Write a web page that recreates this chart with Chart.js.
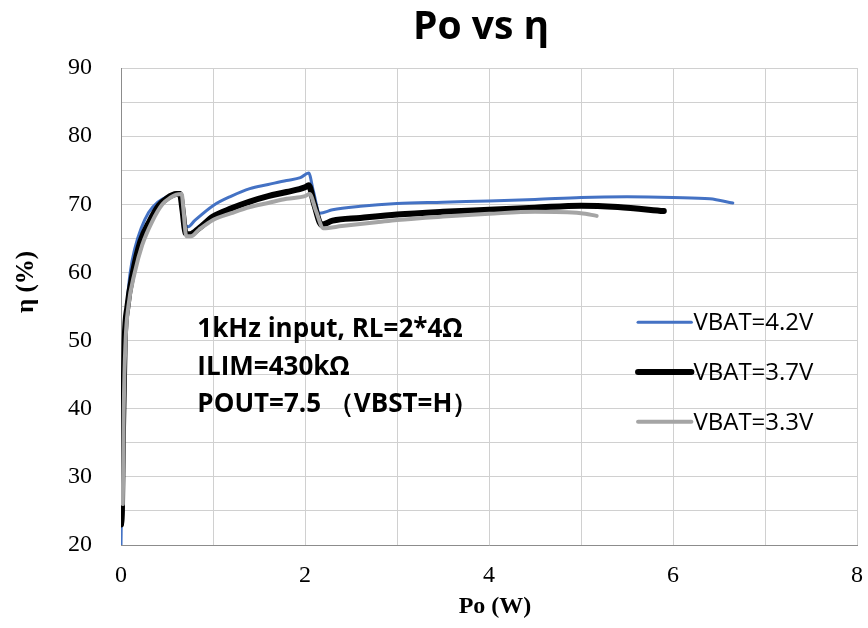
<!DOCTYPE html>
<html>
<head>
<meta charset="utf-8">
<script src="https://cdn.jsdelivr.net/npm/chart.js@4.4.1/dist/chart.umd.min.js"></script>
<style>
  html, body { margin: 0; padding: 0; background: #fff; overflow: hidden; }
  #wrap { width: 868px; height: 628px; }
</style>
</head>
<body>
<div id="wrap"><canvas id="myChart"></canvas></div>
<script>
// series
var seriesLabels = ['VBAT=4.2V', 'VBAT=3.7V', 'VBAT=3.3V'];

var vbat42X = [0, 0.005, 0.015, 0.03, 0.05, 0.07, 0.1, 0.15, 0.22, 0.3, 0.4, 0.5, 0.6, 0.64, 0.67, 0.7, 0.73, 0.8, 1.0, 1.2, 1.4, 1.6, 1.8, 1.95, 2.04, 2.09, 2.16, 2.3, 2.6, 3.0, 3.5, 4.0, 4.5, 5.0, 5.5, 6.0, 6.4, 6.65];
var vbat42Y = [20, 25, 38, 47, 52, 56, 60, 63.5, 66.5, 68.8, 70.3, 71.1, 71.6, 71.7, 69, 67, 66.7, 67.6, 69.8, 71.2, 72.3, 72.9, 73.5, 73.9, 74.6, 72, 68.7, 69.2, 69.7, 70.1, 70.3, 70.5, 70.7, 71.0, 71.1, 71.0, 70.8, 70.2];

var vbat37X = [0, 0.01, 0.02, 0.04, 0.07, 0.13, 0.21, 0.31, 0.41, 0.5, 0.6, 0.64, 0.67, 0.7, 0.75, 0.85, 1.0, 1.2, 1.4, 1.6, 1.8, 2.0, 2.04, 2.1, 2.18, 2.3, 2.6, 3.0, 3.5, 4.0, 4.5, 5.0, 5.4, 5.9];
var vbat37Y = [23, 25, 36, 50, 55, 60, 64.5, 67.5, 69.8, 70.9, 71.5, 71.5, 69, 65.8, 65.6, 66.5, 68.2, 69.4, 70.4, 71.2, 71.8, 72.5, 72.8, 70, 67, 67.6, 68.0, 68.5, 68.9, 69.2, 69.5, 69.8, 69.6, 69.0];

var vbat33X = [0.02, 0.03, 0.05, 0.08, 0.15, 0.23, 0.34, 0.45, 0.54, 0.6, 0.66, 0.68, 0.71, 0.76, 0.85, 1.0, 1.2, 1.4, 1.6, 1.8, 2.0, 2.05, 2.12, 2.2, 2.4, 2.8, 3.0, 3.5, 4.0, 4.5, 5.0, 5.17];
var vbat33Y = [26, 40, 50, 55, 60, 64, 67.5, 70, 71, 71.4, 71.5, 69, 65.3, 65.3, 66.3, 67.7, 68.7, 69.6, 70.2, 70.8, 71.2, 71.5, 69, 66.5, 66.8, 67.4, 67.7, 68.2, 68.6, 68.9, 68.7, 68.3];

var noteLines = ['1kHz input, RL=2*4Ω', 'ILIM=430kΩ', 'POUT=7.5 （VBST=H）'];

function toPoints(xs, ys) {
  var pts = [];
  for (var i = 0; i < xs.length; i++) {
    pts.push({ x: xs[i], y: ys[i] });
  }
  return pts;
}

var serif = "'Liberation Serif', 'DejaVu Serif', serif";
var sans = "'Open Sans', Lato, 'Liberation Sans', sans-serif";

// titles, text box and legend, drawn by hand so they sit where the picture has them
var insidePlugin = {
  id: 'inside',
  afterDatasetsDraw: function(chart) {
    var ctx = chart.ctx;
    var xs = chart.scales.x, ys = chart.scales.y;
    var area = chart.chartArea;
    ctx.save();
    ctx.fillStyle = '#000';
    ctx.textBaseline = 'middle';

    // main title
    ctx.textAlign = 'center';
    ctx.font = "bold 39px " + sans;
    ctx.fillText('Po vs η', (area.left + area.right) / 2 - 8, 28);

    // axis titles
    ctx.font = "bold 24px " + serif;
    ctx.fillText('Po (W)', (area.left + area.right) / 2 + 6, 607);
    ctx.save();
    ctx.translate(27, ys.getPixelForValue(58.6));
    ctx.rotate(-Math.PI / 2);
    ctx.font = "bold 25px " + serif;
    ctx.fillText('η (%)', 0, 0);
    ctx.restore();

    // note
    ctx.textAlign = 'left';
    ctx.font = "bold 26px " + sans;
    var noteY = [51.6, 46.0, 40.6];
    for (var i = 0; i < noteLines.length; i++) {
      ctx.fillText(noteLines[i], xs.getPixelForValue(0.83), ys.getPixelForValue(noteY[i]));
    }

    // legend
    var legY = [52.7, 45.4, 38.1];
    var x0 = xs.getPixelForValue(5.62), x1 = xs.getPixelForValue(6.2);
    ctx.font = "24px " + sans;
    chart.data.datasets.forEach(function(ds, i) {
      var py = ys.getPixelForValue(legY[i]);
      ctx.strokeStyle = ds.borderColor;
      ctx.lineWidth = ds.borderWidth;
      ctx.lineCap = 'round';
      ctx.beginPath();
      ctx.moveTo(x0, py);
      ctx.lineTo(x1, py);
      ctx.stroke();
      ctx.fillStyle = '#000';
      ctx.fillText(ds.label, x1 + 2, py + 1);
    });
    ctx.restore();
  }
};

var chart = new Chart(document.getElementById('myChart'), {
  type: 'line',
  data: {
    datasets: [
      {
        label: seriesLabels[0],
        data: toPoints(vbat42X, vbat42Y),
        borderColor: '#4472c4',
        borderWidth: 3,
        order: 3
      },
      {
        label: seriesLabels[1],
        data: toPoints(vbat37X, vbat37Y),
        borderColor: '#000000',
        borderWidth: 6,
        order: 2
      },
      {
        label: seriesLabels[2],
        data: toPoints(vbat33X, vbat33Y),
        borderColor: '#a5a5a5',
        borderWidth: 4,
        order: 1
      }
    ]
  },
  options: {
    animation: false,
    responsive: true,
    maintainAspectRatio: false,
    layout: { padding: { left: 0, right: 11, top: 68, bottom: 0 } },
    elements: {
      point: { radius: 0 },
      line: { cubicInterpolationMode: 'monotone', fill: false, borderCapStyle: 'round', borderJoinStyle: 'round' }
    },
    scales: {
      x: {
        type: 'linear',
        min: 0,
        max: 8,
        border: { color: '#8c8c8c', width: 1 },
        grid: { color: '#d0d0d0', drawTicks: false },
        ticks: {
          stepSize: 1,
          padding: 16,
          maxRotation: 0,
          color: '#000',
          font: { family: serif, size: 24 },
          callback: function(value) { return value % 2 === 0 ? value : ''; }
        },
        afterFit: function(scale) {
          scale.height = 83;
          scale.paddingLeft = 0;
          scale.paddingRight = 0;
        }
      },
      y: {
        min: 20,
        max: 90,
        border: { color: '#8c8c8c', width: 1 },
        grid: { color: '#d0d0d0', drawTicks: false },
        ticks: {
          stepSize: 5,
          padding: 29,
          color: '#000',
          font: { family: serif, size: 24 },
          callback: function(value) { return value % 10 === 0 ? value : ''; }
        },
        afterFit: function(scale) {
          scale.width = 121;
          scale.paddingTop = 0;
          scale.paddingBottom = 0;
        }
      }
    },
    plugins: {
      legend: { display: false },
      tooltip: { enabled: false },
      title: { display: false }
    }
  },
  plugins: [insidePlugin]
});
</script>
</body>
</html>
